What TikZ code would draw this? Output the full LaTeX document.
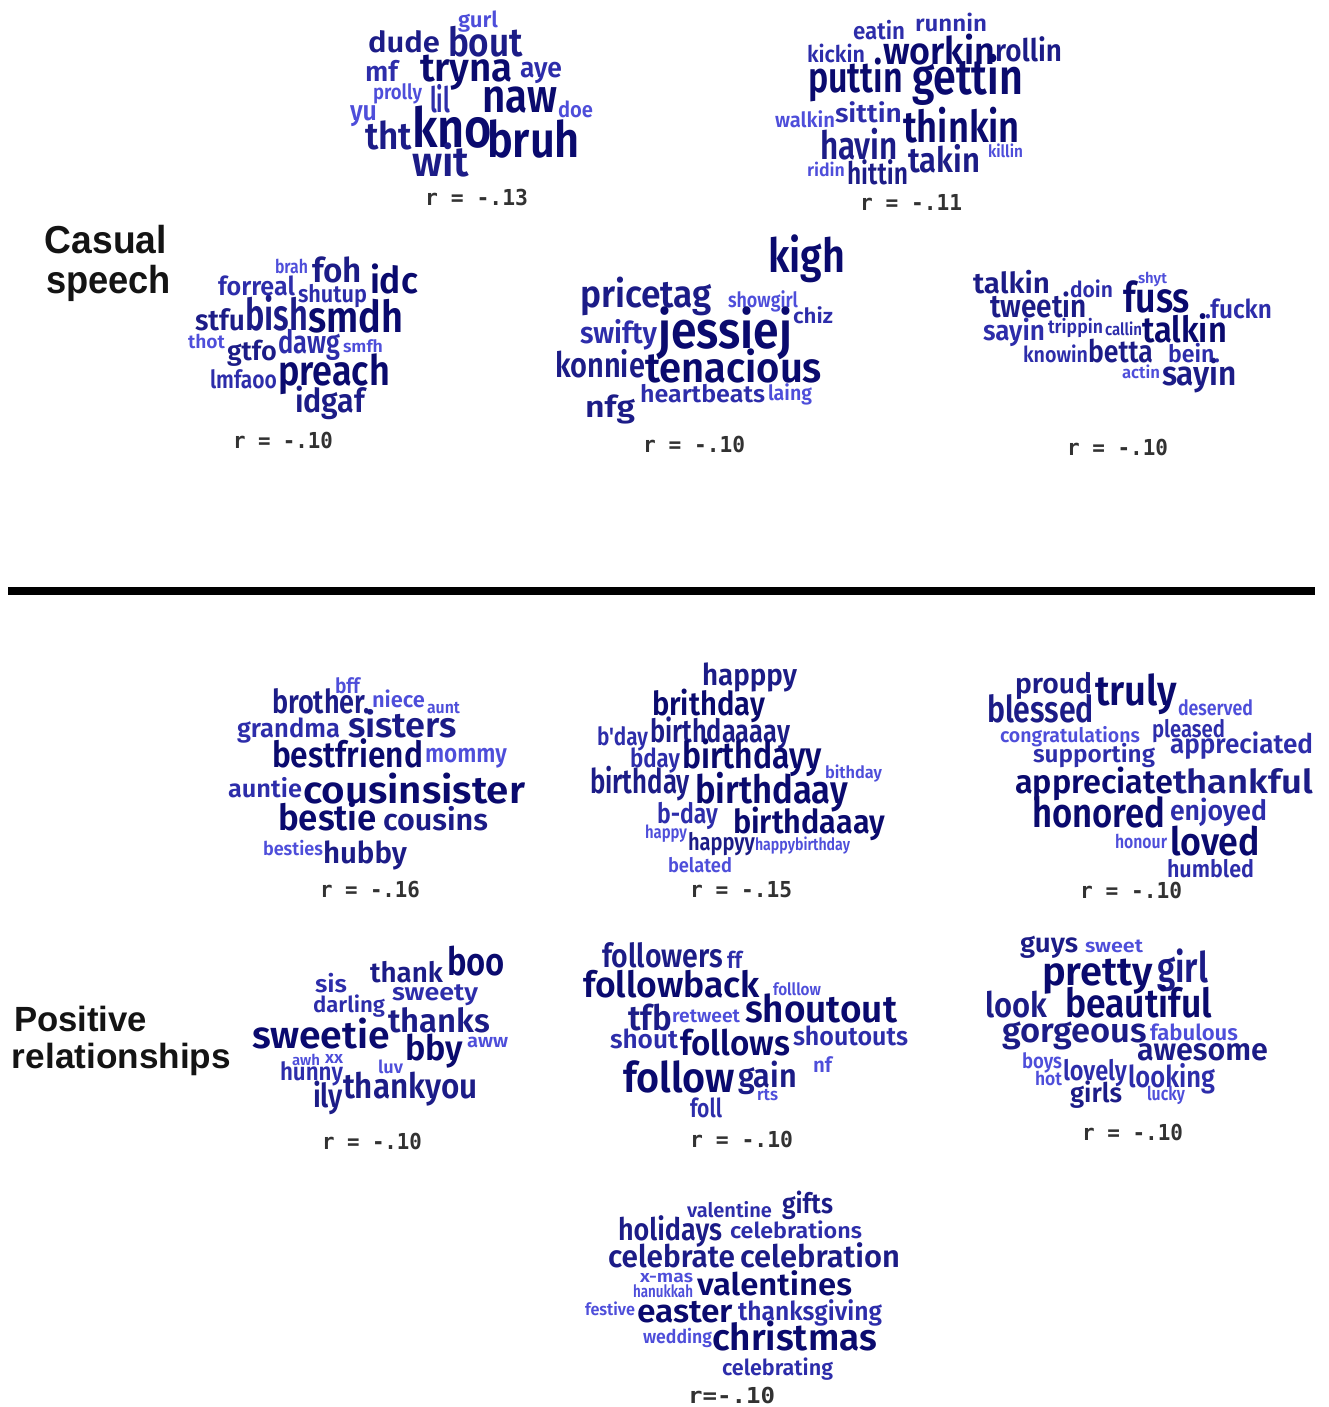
\documentclass[tikz,border=0pt]{standalone}
\usepackage{fontspec}
\newfontfamily\wcfam{Fira Sans SemiBold}
\newfontfamily\monofam{DejaVu Sans Mono}
\newfontfamily\headfam{Liberation Sans}
\definecolor{cA}{RGB}{10,10,110}
\definecolor{cB}{RGB}{28,28,135}
\definecolor{cC}{RGB}{45,45,170}
\definecolor{cD}{RGB}{78,78,218}
\definecolor{rgray}{RGB}{50,50,50}
\definecolor{headc}{RGB}{20,20,20}
\newcounter{wn}
\newlength\wtmp
% fit text to a given width: font, size, width, text
\newcommand\fitw[4]{%
  \settowidth\wtmp{#1\fontsize{#2}{#2}\selectfont #4}%
  \pgfmathsetmacro\wxs{#3/\wtmp}%
  \scalebox{\wxs}[1]{#1\fontsize{#2}{#2}\selectfont #4}}
% x, y, font, size, width, colour, text
\newcommand\Txt[7]{%
  \stepcounter{wn}%
  \node[word,text=#6] (w\arabic{wn}) at (#1,#2) {\fitw{#3}{#4}{#5}{#7}};%
}
\newcommand\Wd[6]{\Txt{#1}{#2}{\wcfam}{#3}{#4}{#5}{#6}}
\newcommand\Rl[4]{\Txt{#1}{#2}{\monofam\bfseries}{22}{#3}{rgray}{#4}}
\newcommand\Hd[5]{\Txt{#1}{#2}{\headfam\bfseries}{#3}{#4}{headc}{#5}}
\tikzset{word/.style={anchor=base west,inner sep=0pt,outer sep=0pt}}
\begin{document}
\begin{tikzpicture}[x=1pt,y=-1pt]
\useasboundingbox (0,0) rectangle (1328,1407);
\fill[white] (0,0) rectangle (1328,1407);
% headings
\Hd{45}{253}{39}{122}{Casual}
\Hd{46}{293}{39}{125}{speech}
\Hd{14}{1031}{35}{133}{Positive}
\Hd{12}{1068}{35}{219}{relationships}
% rule
\draw[line width=8pt] (8,591) -- (1315,591);
% cloud 1
\Wd{458}{28}{22}{40}{cD}{gurl}
\Wd{368}{53}{29}{72}{cB}{dude}
\Wd{448}{57}{40}{75}{cB}{bout}
\Wd{365}{82}{28}{33}{cC}{mf}
\Wd{420}{82}{40}{93}{cA}{tryna}
\Wd{520}{78}{28}{42}{cC}{aye}
\Wd{373}{100}{21}{49}{cD}{prolly}
\Wd{430}{113}{35}{20}{cC}{lil}
\Wd{482}{113}{47}{75}{cA}{naw}
\Wd{558}{118}{22}{35}{cD}{doe}
\Wd{350}{121}{28}{27}{cD}{yu}
\Wd{365}{150}{38}{47}{cB}{tht}
\Wd{412}{148}{55}{80}{cA}{kno}
\Wd{487}{158}{50}{93}{cA}{bruh}
\Wd{412}{177}{42}{57}{cB}{wit}
\Rl{425}{205}{103}{r = -.13}
% cloud 2
\Wd{853}{40}{24}{52}{cC}{eatin}
\Wd{915}{32}{23}{72}{cC}{runnin}
\Wd{807}{63}{23}{58}{cC}{kickin}
\Wd{883}{65}{38}{112}{cA}{workin}
\Wd{995}{62}{31}{67}{cB}{rollin}
\Wd{808}{93}{43}{95}{cA}{puttin}
\Wd{912}{95}{50}{111}{cA}{gettin}
\Wd{775}{128}{21}{60}{cD}{walkin}
\Wd{835}{123}{26}{67}{cC}{sittin}
\Wd{903}{143}{44}{117}{cA}{thinkin}
\Wd{820}{160}{39}{78}{cB}{havin}
\Wd{908}{172}{35}{72}{cB}{takin}
\Wd{988}{158}{17}{35}{cD}{killin}
\Wd{807}{177}{18}{38}{cD}{ridin}
\Wd{847}{185}{31}{61}{cB}{hittin}
\Rl{860}{210}{102}{r = -.11}
% cloud 3
\Wd{275}{273}{19}{33}{cD}{brah}
\Wd{312}{282}{34}{50}{cB}{foh}
\Wd{370}{293}{37}{48}{cA}{idc}
\Wd{218}{295}{26}{77}{cC}{forreal}
\Wd{298}{302}{24}{69}{cC}{shutup}
\Wd{195}{330}{29}{50}{cB}{stfu}
\Wd{245}{330}{44}{63}{cB}{bish}
\Wd{308}{332}{44}{95}{cA}{smdh}
\Wd{188}{348}{19}{37}{cD}{thot}
\Wd{227}{360}{27}{50}{cB}{gtfo}
\Wd{278}{353}{32}{62}{cC}{dawg}
\Wd{343}{352}{17}{40}{cD}{smfh}
\Wd{210}{388}{25}{67}{cC}{lmfaoo}
\Wd{278}{385}{42}{112}{cA}{preach}
\Wd{295}{412}{33}{70}{cB}{idgaf}
\Rl{233}{448}{100}{r = -.10}
% cloud 4
\Wd{768}{272}{47}{77}{cA}{kigh}
\Wd{580}{307}{38}{132}{cB}{pricetag}
\Wd{728}{307}{21}{70}{cD}{showgirl}
\Wd{793}{323}{21}{40}{cC}{chiz}
\Wd{580}{343}{30}{77}{cC}{swifty}
\Wd{658}{348}{52}{134}{cA}{jessiej}
\Wd{555}{377}{35}{90}{cB}{konnie}
\Wd{645}{382}{42}{177}{cA}{tenacious}
\Wd{585}{417}{30}{50}{cB}{nfg}
\Wd{640}{402}{24}{125}{cC}{heartbeats}
\Wd{768}{400}{21}{44}{cD}{laing}
\Rl{643}{452}{102}{r = -.10}
% cloud 5
\Wd{973}{293}{29}{77}{cB}{talkin}
\Wd{1070}{297}{22}{43}{cC}{doin}
\Wd{1138}{283}{15}{29}{cD}{shyt}
\Wd{1123}{312}{42}{67}{cA}{fuss}
\Wd{990}{317}{32}{97}{cB}{tweetin}
\Wd{1205}{318}{26}{67}{cC}{.fuckn}
\Wd{983}{340}{28}{62}{cC}{sayin}
\Wd{1048}{333}{19}{55}{cC}{trippin}
\Wd{1105}{335}{17}{37}{cC}{callin}
\Wd{1142}{342}{36}{85}{cA}{talkin}
\Wd{1023}{362}{22}{65}{cC}{knowin}
\Wd{1088}{362}{31}{65}{cB}{betta}
\Wd{1168}{362}{24}{52}{cC}{bein.}
\Wd{1122}{378}{17}{38}{cD}{actin}
\Wd{1162}{385}{34}{75}{cB}{sayin}
\Rl{1067}{455}{101}{r = -.10}
% cloud 6
\Wd{335}{693}{21}{25}{cD}{bff}
\Wd{272}{713}{33}{98}{cB}{brother.}
\Wd{372}{707}{22}{53}{cD}{niece}
\Wd{427}{713}{17}{33}{cD}{aunt}
\Wd{237}{737}{26}{103}{cC}{grandma}
\Wd{348}{737}{35}{109}{cB}{sisters}
\Wd{272}{767}{36}{151}{cA}{bestfriend}
\Wd{425}{762}{26}{82}{cD}{mommy}
\Wd{228}{797}{25}{74}{cC}{auntie}
\Wd{303}{803}{38}{222}{cA}{cousinsister}
\Wd{278}{830}{36}{99}{cA}{bestie}
\Wd{383}{830}{30}{105}{cB}{cousins}
\Wd{263}{855}{19}{60}{cD}{besties}
\Wd{323}{863}{30}{84}{cB}{hubby}
\Rl{320}{897}{100}{r = -.16}
% cloud 7
\Wd{702}{685}{30}{95}{cB}{happpy}
\Wd{652}{715}{33}{113}{cA}{brithday}
\Wd{597}{745}{25}{51}{cC}{b'day}
\Wd{650}{742}{32}{140}{cB}{birthdaaaay}
\Wd{630}{767}{26}{50}{cC}{bday}
\Wd{682}{768}{37}{140}{cA}{birthdayy}
\Wd{825}{778}{17}{57}{cD}{bithday}
\Wd{590}{793}{34}{100}{cB}{birthday}
\Wd{695}{803}{39}{153}{cA}{birthdaay}
\Wd{657}{823}{28}{61}{cC}{b-day}
\Wd{733}{833}{33}{152}{cA}{birthdaaay}
\Wd{645}{838}{18}{42}{cD}{happy}
\Wd{688}{850}{24}{67}{cB}{happyy}
\Wd{755}{850}{17}{95}{cD}{happybirthday}
\Wd{668}{872}{20}{64}{cD}{belated}
\Rl{690}{897}{102}{r = -.15}
% cloud 8
\Wd{1015}{693}{28}{77}{cB}{proud}
\Wd{1095}{705}{42}{82}{cA}{truly}
\Wd{987}{722}{37}{107}{cB}{blessed}
\Wd{1178}{715}{21}{75}{cD}{deserved}
\Wd{1000}{742}{20}{140}{cD}{congratulations}
\Wd{1152}{737}{24}{73}{cC}{pleased}
\Wd{1170}{753}{27}{143}{cC}{appreciated}
\Wd{1033}{762}{24}{122}{cC}{supporting}
\Wd{1015}{793}{33}{158}{cA}{appreciate}
\Wd{1173}{793}{33}{140}{cB}{thankful}
\Wd{1032}{827}{41}{133}{cA}{honored}
\Wd{1170}{820}{28}{97}{cC}{enjoyed}
\Wd{1115}{848}{19}{52}{cD}{honour}
\Wd{1170}{855}{39}{90}{cA}{loved}
\Wd{1167}{877}{24}{87}{cC}{humbled}
\Rl{1080}{898}{102}{r = -.10}
% cloud 9
\Wd{370}{982}{28}{73}{cB}{thank}
\Wd{447}{975}{39}{58}{cA}{boo}
\Wd{315}{992}{24}{32}{cC}{sis}
\Wd{392}{1000}{24}{86}{cC}{sweety}
\Wd{313}{1012}{22}{72}{cC}{darling}
\Wd{388}{1032}{33}{102}{cB}{thanks}
\Wd{252}{1048}{38}{138}{cA}{sweetie}
\Wd{467}{1047}{19}{41}{cD}{aww}
\Wd{405}{1060}{35}{58}{cA}{bby}
\Wd{292}{1065}{15}{28}{cD}{awh}
\Wd{325}{1063}{17}{18}{cD}{xx}
\Wd{280}{1080}{25}{63}{cC}{hunny}
\Wd{378}{1073}{18}{25}{cD}{luv}
\Wd{343}{1098}{35}{135}{cB}{thankyou}
\Wd{313}{1107}{33}{30}{cB}{ily}
\Rl{322}{1149}{100}{r = -.10}
% cloud 10
\Wd{602}{967}{33}{121}{cB}{followers}
\Wd{727}{968}{23}{15}{cC}{ff}
\Wd{583}{997}{36}{177}{cA}{followback}
\Wd{773}{995}{17}{48}{cD}{folllow}
\Wd{628}{1030}{35}{44}{cB}{tfb}
\Wd{672}{1022}{19}{68}{cD}{retweet}
\Wd{745}{1022}{38}{152}{cA}{shoutout}
\Wd{610}{1048}{26}{68}{cC}{shout}
\Wd{680}{1055}{35}{110}{cA}{follows}
\Wd{793}{1045}{26}{115}{cC}{shoutouts}
\Wd{813}{1072}{21}{19}{cD}{nf}
\Wd{623}{1092}{42}{112}{cA}{follow}
\Wd{738}{1087}{33}{59}{cB}{gain}
\Wd{757}{1100}{17}{21}{cD}{rts}
\Wd{690}{1117}{26}{32}{cC}{foll}
\Rl{690}{1147}{103}{r = -.10}
% cloud 11
\Wd{1020}{952}{27}{58}{cB}{guys}
\Wd{1085}{952}{19}{58}{cD}{sweet}
\Wd{1042}{985}{40}{111}{cA}{pretty}
\Wd{1157}{982}{42}{51}{cB}{girl}
\Wd{985}{1017}{35}{62}{cB}{look}
\Wd{1065}{1017}{40}{147}{cA}{beautiful}
\Wd{1002}{1042}{34}{145}{cB}{gorgeous}
\Wd{1150}{1040}{22}{88}{cD}{fabulous}
\Wd{1137}{1060}{31}{131}{cB}{awesome}
\Wd{1022}{1068}{21}{40}{cD}{boys}
\Wd{1035}{1085}{19}{27}{cD}{hot}
\Wd{1063}{1080}{28}{64}{cC}{lovely}
\Wd{1128}{1087}{30}{87}{cC}{looking}
\Wd{1070}{1102}{27}{52}{cB}{girls}
\Wd{1147}{1100}{19}{38}{cD}{lucky}
\Rl{1082}{1140}{101}{r = -.10}
% cloud 12
\Wd{687}{1217}{20}{85}{cC}{valentine}
\Wd{782}{1213}{28}{51}{cB}{gifts}
\Wd{618}{1240}{31}{104}{cB}{holidays}
\Wd{730}{1238}{22}{132}{cC}{celebrations}
\Wd{608}{1267}{31}{127}{cB}{celebrate}
\Wd{740}{1267}{31}{160}{cB}{celebration}
\Wd{640}{1282}{17}{53}{cD}{x-mas}
\Wd{633}{1297}{17}{60}{cD}{hanukkah}
\Wd{697}{1295}{31}{155}{cA}{valentines}
\Wd{585}{1315}{17}{50}{cD}{festive}
\Wd{637}{1322}{32}{96}{cA}{easter}
\Wd{738}{1320}{26}{144}{cC}{thanksgiving}
\Wd{643}{1343}{19}{69}{cD}{wedding}
\Wd{712}{1350}{37}{165}{cA}{christmas}
\Wd{722}{1375}{22}{111}{cC}{celebrating}
\Rl{688}{1403}{87}{r=-.10}
\end{tikzpicture}
\end{document}
